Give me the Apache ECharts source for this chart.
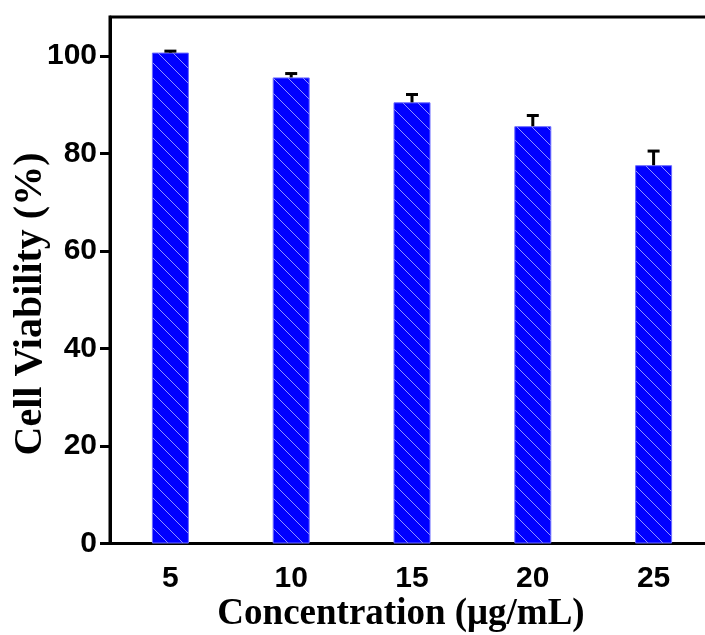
<!DOCTYPE html>
<html>
<head>
<meta charset="utf-8">
<script src="https://cdn.jsdelivr.net/npm/echarts@6/dist/echarts.min.js"></script>
<style>html,body{margin:0;padding:0;background:#fff}#c{width:705px;height:635px}</style>
</head>
<body>
<div id="c"></div>
<script>
const categories = ['5', '10', '15', '20', '25'];
const viability = [100.7, 95.6, 90.5, 85.6, 77.6];
const errors = [0.3, 0.8, 1.6, 2.2, 2.9];
const yTicks = [0, 20, 40, 60, 80, 100];
const xTitle = 'Concentration (μg/mL)';
const yTitle = 'Cell Viability (%)';

// hatch pattern
const pc = document.createElement('canvas');
pc.width = 15; pc.height = 15;
const g = pc.getContext('2d');
g.fillStyle = '#0000ff';
g.fillRect(0, 0, 15, 15);
g.strokeStyle = 'rgba(170,170,255,0.85)';
g.lineWidth = 1;
g.beginPath();
g.moveTo(-1, -1); g.lineTo(16, 16);
g.moveTo(-1, 14); g.lineTo(1, 16);
g.moveTo(14, -1); g.lineTo(16, 1);
g.stroke();

const chart = echarts.init(document.getElementById('c'), null, {renderer: 'canvas'});
const option = {
  animation: false,
  grid: {left: 110, top: 17, right: -9, bottom: 91.5, outerBoundsMode: 'none', containLabel: false,
    show: true, borderColor: '#000', borderWidth: 3, backgroundColor: 'transparent'},
  xAxis: {
    type: 'category',
    data: categories,
    axisLine: {lineStyle: {color: '#000', width: 3}},
    axisTick: {alignWithLabel: true, length: 11, lineStyle: {color: '#000', width: 3}},
    axisLabel: {color: '#000', fontFamily: 'Liberation Sans', fontWeight: 'bold', fontSize: 30, margin: 20}
  },
  yAxis: {
    type: 'value',
    min: 0, max: 108, interval: 20,
    axisLine: {show: true, lineStyle: {color: '#000', width: 3}},
    axisTick: {show: true, length: 10, customValues: yTicks, lineStyle: {color: '#000', width: 3}},
    splitLine: {show: false},
    axisLabel: {color: '#000', fontFamily: 'Liberation Sans', fontWeight: 'bold', fontSize: 30, margin: 13,
      customValues: yTicks}
  },
  graphic: [
    {type: 'text', x: 401, y: 614, style: {text: xTitle, fill: '#000', font: 'bold 37px "Liberation Serif"', align: 'center', verticalAlign: 'middle'}},
    {type: 'text', x: 31, y: 304, rotation: Math.PI / 2, style: {text: yTitle, fill: '#000', font: 'bold 40px "Liberation Serif"', align: 'center', verticalAlign: 'middle'}}
  ],
  series: [
    {
      type: 'bar',
      data: viability,
      barWidth: 37,
      itemStyle: {color: {image: pc, repeat: 'repeat'}, borderColor: '#6a6aff', borderWidth: 1}
    },
    {
      type: 'custom',
      data: viability.map((v, i) => [i, v, errors[i]]),
      renderItem: function (params, api) {
        const x = api.value(0), v = api.value(1), e = api.value(2);
        const p0 = api.coord([x, v]);
        const p1 = api.coord([x, v + e]);
        const hw = 6;
        return {
          type: 'group',
          children: [
            {type: 'line', shape: {x1: p0[0], y1: p0[1], x2: p1[0], y2: p1[1]}, style: {stroke: '#000', lineWidth: 3}},
            {type: 'line', shape: {x1: p1[0] - hw, y1: p1[1], x2: p1[0] + hw, y2: p1[1]}, style: {stroke: '#000', lineWidth: 3}}
          ]
        };
      },
      z: 5
    }
  ]
};
chart.setOption(option);
</script>
</body>
</html>
